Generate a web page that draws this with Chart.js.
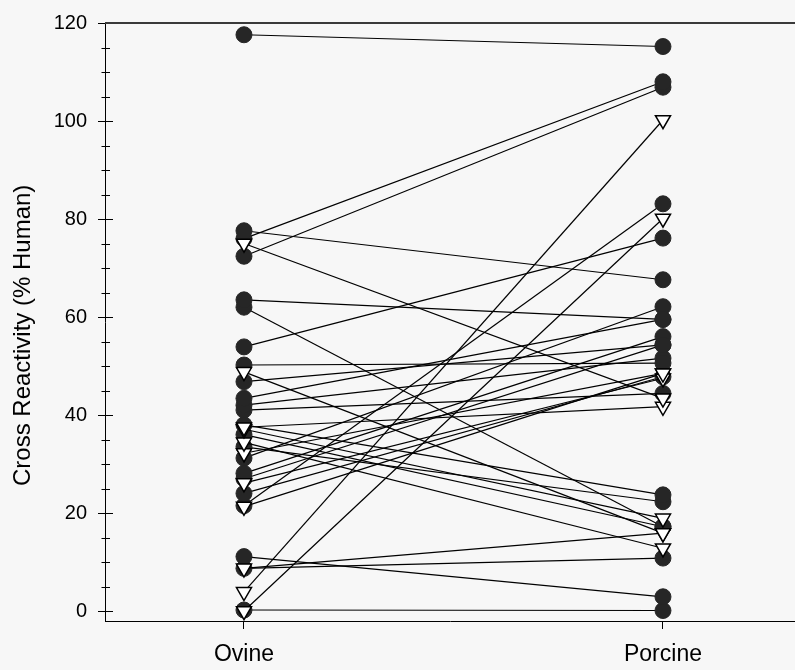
<!DOCTYPE html>
<html><head><meta charset="utf-8">
<script src="https://cdn.jsdelivr.net/npm/chart.js@4.4.0/dist/chart.umd.min.js"></script>
<style>html,body{margin:0;padding:0;background:#f7f7f7;}canvas{display:block;}</style>
</head><body>
<canvas id="c" width="795" height="670"></canvas>
<script>
const categories = ['Ovine', 'Porcine'];
const yTicks = [0, 20, 40, 60, 80, 100, 120];
const yTitle = 'Cross Reactivity (% Human)    ';

// paired values (ovine -> porcine), filled circles
const ovineCircle   = [117.6, 77.6, 76.0, 72.4, 63.5, 62.0, 53.9, 50.2, 46.8, 43.4, 42.0, 41.0, 38.0, 36.0, 33.5, 31.2, 28.1, 27.0, 24.0, 21.5, 11.1, 8.7, 0.2];
const porcineCircle = [115.2, 67.6, 108.0, 106.9, 59.5, 17.2, 76.1, 50.6, 54.3, 59.5, 51.6, 44.4, 23.7, 17.2, 22.3, 62.1, 56.0, 54.3, 47.8, 83.1, 2.9, 10.8, 0.1];
// paired values (ovine -> porcine), open down-triangles
const ovineTriangle   = [75.0, 48.8, 37.5, 37.1, 34.4, 32.2, 26.1, 21.3, 8.7, 3.9, 0.0];
const porcineTriangle = [43.4, 15.9, 41.7, 18.9, 12.8, 48.5, 47.5, 48.5, 15.9, 100.2, 80.1];

const FONT = '"Liberation Sans", Arial, Helvetica, sans-serif';
Chart.defaults.font.family = FONT;
Chart.defaults.color = '#000';

const datasets = [];
ovineCircle.forEach((o, i) => {
  datasets.push({
    data: [{x: 1, y: o}, {x: 2, y: porcineCircle[i]}],
    borderColor: '#000', borderWidth: 1.2, tension: 0, fill: false,
    pointStyle: 'circle', pointRadius: 8, pointBackgroundColor: '#262626',
    pointBorderColor: '#262626', pointBorderWidth: 1, order: 1, clip: false
  });
});
ovineTriangle.forEach((o, i) => {
  datasets.push({
    data: [{x: 1, y: o}, {x: 2, y: porcineTriangle[i]}],
    borderColor: '#000', borderWidth: 1.2, tension: 0, fill: false,
    pointStyle: 'triangle', pointRotation: 180, pointRadius: 8.7,
    pointBackgroundColor: '#ffffff', pointBorderColor: '#000', pointBorderWidth: 1.5,
    order: 0, clip: false
  });
});

const frame = {
  id: 'frame',
  afterDraw(chart) {
    const ctx = chart.ctx, ys = chart.scales.y, a = chart.chartArea;
    ctx.save();
    ctx.strokeStyle = '#000';
    ctx.lineWidth = 1;
    for (let v = 0; v <= 120; v += 5) {
      const py = Math.round(ys.getPixelForValue(v)) + 0.5;
      const major = v % 20 === 0;
      ctx.beginPath();
      ctx.moveTo(a.left - (major ? 7 : 3.5), py);
      ctx.lineTo(a.left + (major ? 8 : 5), py);
      ctx.stroke();
    }
    ctx.strokeStyle = '#3a3a3a';
    ctx.lineWidth = 2;
    ctx.beginPath();
    ctx.moveTo(a.left, a.top);
    ctx.lineTo(chart.width, a.top);
    ctx.stroke();
    ctx.restore();
  }
};

new Chart(document.getElementById('c'), {
  type: 'line',
  data: {datasets},
  plugins: [frame],
  options: {
    responsive: false, animation: false, devicePixelRatio: 1,
    layout: {autoPadding: false, padding: {top: 23, right: 0, bottom: 0, left: 0}},
    plugins: {legend: {display: false}, tooltip: {enabled: false}},
    scales: {
      x: {
        type: 'linear', min: 0.6683, max: 2.3151,
        afterBuildTicks: s => { s.ticks = categories.map((c, i) => ({value: i + 1})); },
        afterFit: s => { s.height = 49; s.paddingLeft = 0; s.paddingRight = 0; },
        ticks: {
          callback: v => categories[Math.round(v) - 1],
          font: {size: 23}, color: '#000', padding: 12, maxRotation: 0, autoSkip: false
        },
        grid: {drawOnChartArea: false, drawTicks: true, tickLength: 8, color: '#000', lineWidth: 1},
        border: {color: '#000', width: 1}
      },
      y: {
        type: 'linear', min: -2.04, max: 120,
        afterBuildTicks: s => { s.ticks = yTicks.map(v => ({value: v})); },
        afterFit: s => { s.width = 105; },
        ticks: {font: {size: 20}, color: '#000', padding: 11},
        grid: {drawOnChartArea: false, drawTicks: true, tickLength: 7, color: '#000', lineWidth: 1},
        border: {color: '#000', width: 1},
        title: {display: true, text: yTitle, font: {size: 24}, color: '#000', padding: {top: 9, bottom: 0}}
      }
    }
  }
});
</script>
</body></html>
